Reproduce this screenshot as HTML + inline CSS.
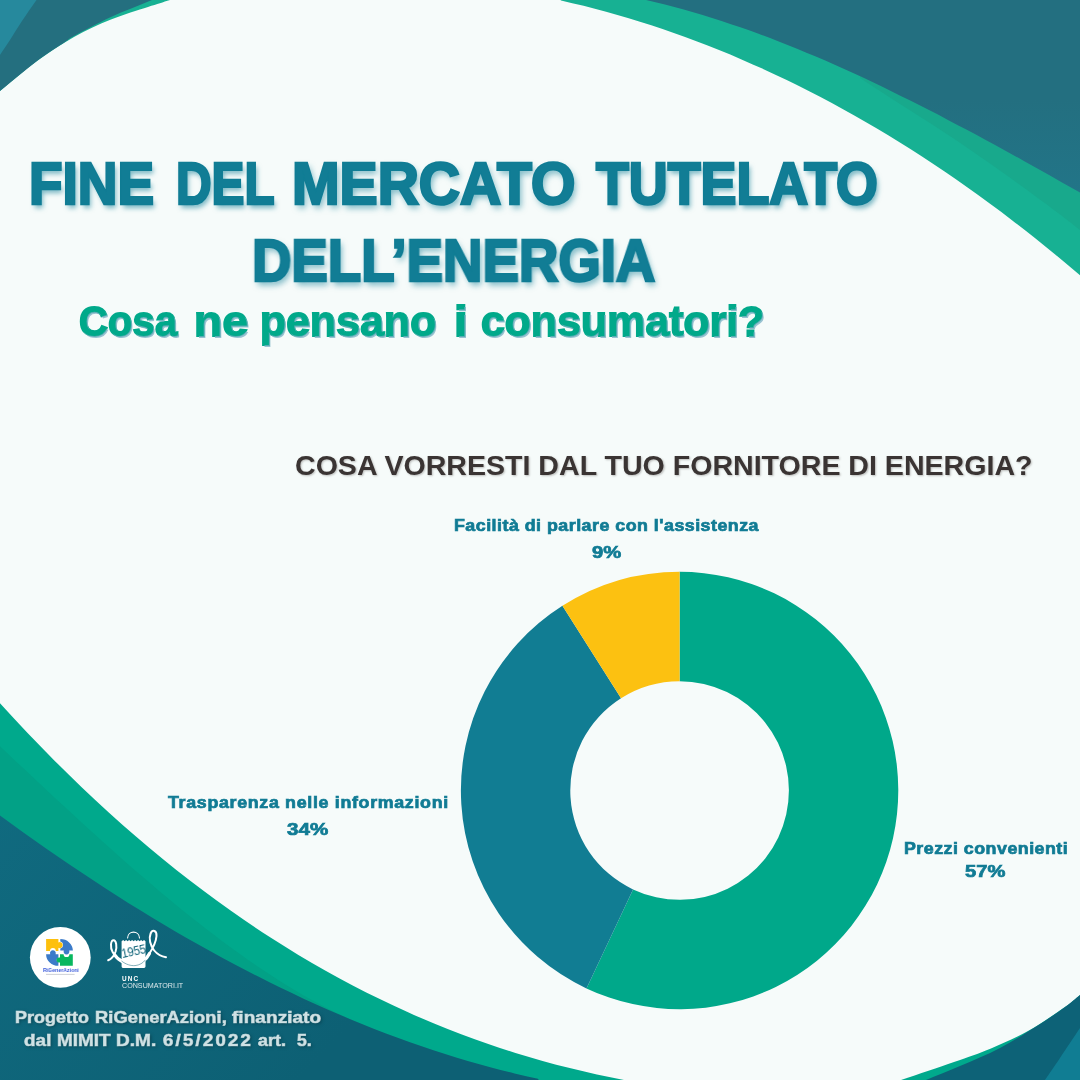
<!DOCTYPE html>
<html lang="it">
<head>
<meta charset="utf-8">
<title>Fine del mercato tutelato dell'energia</title>
<style>
html,body{margin:0;padding:0;}
body{width:1080px;height:1080px;overflow:hidden;background:#f6fbfa;position:relative;font-family:"Liberation Sans",sans-serif;}
#bg{position:absolute;left:0;top:0;width:1080px;height:1080px;display:block;}
.t{position:absolute;white-space:nowrap;font-weight:bold;line-height:1;margin:0;transform-origin:0 0;will-change:transform;}
.title{-webkit-text-stroke:2.6px #117d95;paint-order:stroke fill;color:#117d95;font-size:59.6px;text-shadow:2.5px 3.5px 6px rgba(17,125,149,.55);transform-origin:0 0;}
.sub{-webkit-text-stroke:1.8px #00a98a;paint-order:stroke fill;color:#00a98a;font-size:42.6px;text-shadow:1.6px 1.6px 0.6px rgba(120,175,195,.75);}
.t.ws{font-size:0;}
.w{display:inline-block;width:0;position:relative;vertical-align:top;white-space:nowrap;transform-origin:0 0;line-height:1;}
.title .w{font-size:59.6px;}
.sub .w{font-size:42.6px;}
.ft .w{font-size:16.2px;}
.ct{color:#3a3433;font-size:27px;text-shadow:1px 1px 2px rgba(58,52,51,.3);}
.lb{-webkit-text-stroke:.7px #107b94;paint-order:stroke fill;color:#107b94;font-size:16.5px;text-align:center;}
.ft{-webkit-text-stroke:.7px #cfe2e5;paint-order:stroke fill;color:#cfe2e5;font-size:16.2px;text-shadow:1px 1px 3px rgba(0,40,50,.6);}
</style>
</head>
<body>
<svg id="bg" viewBox="0 0 1080 1080" width="1080" height="1080">
  <!-- top right -->
  <path d="M561.0,0.4 C568.5,2.2 576.0,3.9 583.6,5.8 C591.1,7.7 598.6,9.7 606.1,11.7 C613.7,13.8 621.2,16.0 628.7,18.2 C636.2,20.5 643.7,22.9 651.3,25.3 C658.8,27.8 666.3,30.3 673.8,33.0 C681.3,35.6 688.9,38.3 696.4,41.2 C703.9,44.0 711.4,47.0 719.0,50.0 C726.5,53.0 734.0,56.2 741.5,59.4 C749.0,62.6 756.6,66.0 764.1,69.4 C771.6,72.8 779.1,76.4 786.7,80.0 C794.2,83.7 801.7,87.4 809.2,91.2 C816.7,95.1 824.3,99.0 831.8,103.1 C839.3,107.1 846.8,111.3 854.3,115.5 C861.9,119.8 869.4,124.1 876.9,128.6 C884.4,133.0 892.0,137.6 899.5,142.3 C907.0,146.9 914.5,151.7 922.0,156.6 C929.6,161.5 937.1,166.5 944.6,171.6 C952.1,176.7 959.7,181.9 967.2,187.2 C974.7,192.5 982.2,198.0 989.7,203.5 C997.3,209.0 1004.8,214.7 1012.3,220.4 C1019.8,226.2 1027.3,232.0 1034.9,238.0 C1042.4,244.0 1049.9,250.1 1057.4,256.3 C1065.0,262.5 1072.5,268.9 1080.0,275.2 L1090,276 L1090,-10 L550,-10 Z" fill="#17b193"/>
  <path d="M860.0,78.0 C873.3,86.7 885.5,94.7 900.0,104.0 C914.5,113.3 929.7,122.7 946.7,134.0 C963.7,145.3 983.5,158.8 1002.0,172.0 C1020.5,185.2 1045.0,203.3 1058.0,213.0 C1071.0,222.7 1072.7,224.3 1080.0,230.0 L1090,230 L1090,-10 L860,-10 Z" fill="#18a98c"/>
  <defs><linearGradient id="gdtr" gradientUnits="userSpaceOnUse" x1="0" y1="100" x2="0" y2="195"><stop offset="0" stop-color="#236f80"/><stop offset="1" stop-color="#227588"/></linearGradient></defs>
  <path d="M646.0,0.1 C652.3,1.6 658.6,3.0 664.9,4.6 C671.2,6.1 677.4,7.8 683.7,9.5 C690.0,11.3 696.3,13.1 702.6,15.0 C708.9,16.9 715.2,18.9 721.5,20.9 C727.8,23.0 734.1,25.1 740.3,27.3 C746.6,29.5 752.9,31.7 759.2,34.0 C765.5,36.4 771.8,38.7 778.1,41.2 C784.4,43.6 790.7,46.1 797.0,48.7 C803.2,51.3 809.5,53.9 815.8,56.6 C822.1,59.3 828.4,62.0 834.7,64.8 C841.0,67.6 847.3,70.4 853.6,73.3 C859.9,76.2 866.1,79.1 872.4,82.1 C878.7,85.1 885.0,88.1 891.3,91.2 C897.6,94.3 903.9,97.4 910.2,100.5 C916.5,103.7 922.8,106.9 929.0,110.1 C935.3,113.3 941.6,116.6 947.9,119.9 C954.2,123.2 960.5,126.5 966.8,129.8 C973.1,133.2 979.4,136.6 985.7,140.0 C991.9,143.4 998.2,146.8 1004.5,150.3 C1010.8,153.7 1017.1,157.2 1023.4,160.7 C1029.7,164.2 1036.0,167.7 1042.3,171.2 C1048.6,174.8 1054.8,178.3 1061.1,181.9 C1067.4,185.4 1073.7,189.0 1080.0,192.6 L1090,192 L1090,-10 L640,-10 Z" fill="url(#gdtr)"/>
  <!-- top left -->
  <path d="M0.0,91.0 C12.3,81.0 24.7,70.0 37.0,61.0 C49.3,52.0 61.7,43.9 74.0,37.0 C86.3,30.1 98.7,24.5 111.0,19.5 C123.3,14.5 138.2,10.2 148.0,7.0 C157.8,3.8 162.7,2.3 170.0,0.0 L0,0 Z" fill="#17b193"/>
  <path d="M0.0,91.0 C12.3,81.0 26.2,69.2 37.0,61.0 C47.8,52.8 58.8,46.2 65.0,42.0 C71.2,37.8 66.3,40.2 74.0,36.0 C81.7,31.8 98.0,23.0 111.0,17.0 C124.0,11.0 138.3,5.7 152.0,0.0 L0,0 Z" fill="#246f7f"/>
  <path d="M0.0,55.0 C3.3,50.0 6.3,45.7 10.0,40.0 C13.7,34.3 17.6,27.7 22.0,21.0 C26.4,14.3 31.7,7.0 36.5,0.0 L0,0 Z" fill="#26899d"/>
  <!-- bottom left -->
  <path d="M0.0,703.2 C9.0,713.0 18.1,723.0 27.1,732.5 C36.2,742.0 45.2,751.3 54.3,760.4 C63.3,769.4 72.3,778.3 81.4,786.9 C90.4,795.6 99.5,804.0 108.5,812.2 C117.6,820.4 126.6,828.4 135.7,836.2 C144.7,844.0 153.7,851.6 162.8,858.9 C171.8,866.3 180.9,873.5 189.9,880.5 C199.0,887.4 208.0,894.2 217.0,900.8 C226.1,907.4 235.1,913.8 244.2,920.0 C253.2,926.2 262.3,932.2 271.3,938.0 C280.3,943.8 289.4,949.4 298.4,954.9 C307.5,960.3 316.5,965.6 325.6,970.7 C334.6,975.8 343.7,980.7 352.7,985.4 C361.7,990.2 370.8,994.7 379.8,999.1 C388.9,1003.5 397.9,1007.8 407.0,1011.8 C416.0,1015.9 425.0,1019.8 434.1,1023.5 C443.1,1027.3 452.2,1030.8 461.2,1034.2 C470.3,1037.7 479.3,1040.9 488.3,1044.0 C497.4,1047.2 506.4,1050.1 515.5,1052.9 C524.5,1055.7 533.6,1058.4 542.6,1060.9 C551.7,1063.5 560.7,1065.8 569.7,1068.1 C578.8,1070.3 587.8,1072.4 596.9,1074.4 C605.9,1076.3 615.0,1078.0 624.0,1079.9 L630,1090 L-10,1090 L-10,700 Z" fill="#00a98c"/>
  <path d="M0.0,746.3 C5.3,751.3 10.6,756.4 15.9,761.4 C21.3,766.3 26.6,771.3 31.9,776.3 C37.2,781.3 42.5,786.3 47.8,791.2 C53.1,796.2 58.5,801.1 63.8,806.1 C69.1,811.0 74.4,815.9 79.7,820.7 C85.0,825.6 90.3,830.5 95.7,835.3 C101.0,840.1 106.3,844.9 111.6,849.6 C116.9,854.4 122.2,859.1 127.5,863.7 C132.9,868.4 138.2,873.0 143.5,877.6 C148.8,882.2 154.1,886.7 159.4,891.2 C164.7,895.6 170.1,900.0 175.4,904.4 C180.7,908.8 186.0,913.1 191.3,917.3 C196.6,921.5 202.0,925.7 207.3,929.8 C212.6,933.9 217.9,937.9 223.2,941.9 C228.5,945.8 233.8,949.7 239.2,953.5 C244.5,957.3 249.8,961.0 255.1,964.7 C260.4,968.3 265.7,971.8 271.0,975.3 C276.4,978.8 281.7,982.1 287.0,985.4 C292.3,988.7 297.6,991.8 302.9,994.9 C308.2,998.0 313.6,1000.9 318.9,1003.8 C324.2,1006.6 329.5,1009.4 334.8,1012.0 C340.1,1014.7 345.4,1017.2 350.8,1019.6 C356.1,1022.0 361.4,1024.2 366.7,1026.5 L366.7,1090 L-10,1090 L-10,740 Z" fill="#02a186"/>
  <defs><linearGradient id="gdbl" gradientUnits="userSpaceOnUse" x1="0" y1="800" x2="300" y2="1080"><stop offset="0" stop-color="#106a7f"/><stop offset="1" stop-color="#0d6074"/></linearGradient></defs>
  <path d="M0.0,815.6 C7.8,821.3 15.6,827.0 23.4,832.5 C31.2,838.1 39.0,843.6 46.8,849.0 C54.6,854.4 62.4,859.8 70.2,865.0 C78.0,870.3 85.8,875.5 93.6,880.6 C101.4,885.7 109.2,890.8 117.0,895.7 C124.8,900.7 132.6,905.5 140.3,910.3 C148.1,915.1 155.9,919.9 163.7,924.5 C171.5,929.1 179.3,933.7 187.1,938.2 C194.9,942.6 202.7,947.0 210.5,951.3 C218.3,955.6 226.1,959.9 233.9,964.0 C241.7,968.1 249.5,972.2 257.3,976.1 C265.1,980.1 272.9,984.0 280.7,987.8 C288.5,991.5 296.3,995.2 304.1,998.9 C311.9,1002.5 319.7,1006.0 327.5,1009.4 C335.3,1012.8 343.1,1016.2 350.9,1019.4 C358.7,1022.7 366.5,1025.8 374.3,1028.9 C382.1,1031.9 389.9,1034.9 397.7,1037.8 C405.4,1040.6 413.2,1043.4 421.0,1046.1 C428.8,1048.8 436.6,1051.3 444.4,1053.8 C452.2,1056.3 460.0,1058.7 467.8,1061.0 C475.6,1063.3 483.4,1065.4 491.2,1067.5 C499.0,1069.6 506.8,1071.6 514.6,1073.5 C522.4,1075.4 530.2,1077.0 538.0,1078.8 L545,1090 L-10,1090 L-10,810 Z" fill="url(#gdbl)"/>
  <!-- bottom right -->
  <path d="M901.0,1080.0 C918.7,1074.0 939.0,1067.2 954.0,1062.0 C969.0,1056.8 978.7,1053.7 991.0,1048.5 C1003.3,1043.3 1015.7,1037.9 1028.0,1031.0 C1040.3,1024.1 1056.3,1013.0 1065.0,1007.0 C1073.7,1001.0 1075.0,999.0 1080.0,995.0 L1080,1080 Z" fill="#00a98c"/>
  <path d="M926.0,1080.0 C937.3,1075.3 947.7,1071.3 960.0,1066.0 C972.3,1060.7 987.2,1054.7 1000.0,1048.0 C1012.8,1041.3 1026.2,1032.8 1037.0,1026.0 C1047.8,1019.2 1057.8,1012.2 1065.0,1007.0 C1072.2,1001.8 1075.0,999.0 1080.0,995.0 L1080,1080 Z" fill="#0d6277"/>
  <path d="M1045.0,1080.0 C1050.0,1072.7 1054.2,1066.7 1060.0,1058.0 C1065.8,1049.3 1073.3,1038.0 1080.0,1028.0 L1080,1080 Z" fill="#107d93"/>

  <!-- logo 1: RiGenerAzioni -->
  <g class="logo">
    <circle cx="60.3" cy="957.4" r="30.4" fill="#ffffff"/>
    <!-- yellow piece -->
    <path d="M46.1,939.1 H58.4 V942.4 A3,3 0 1 1 58.4,947.8 V950.9 H55.8 A2.9,2.9 0 1 0 50,950.9 H46.1 Z" fill="#fdc00d"/>
    <!-- blue top-right quarter -->
    <path d="M60.3,939.1 A12.6,11.6 0 0 1 72.9,950.5 H69.2 A2.9,2.9 0 1 1 63.8,950.5 H60.3 V948.6 A3.6,3.6 0 0 0 60.3,941.6 Z" fill="#3c7bc9"/>
    <!-- blue bottom-left quarter -->
    <path d="M46.1,954.2 H50.2 A2.9,2.9 0 1 1 55.6,954.2 H58.4 V957.4 A2.8,2.8 0 0 0 58.4,962.6 V965.8 A12.3,11.6 0 0 1 46.1,954.2 Z" fill="#3c7bc9"/>
    <!-- green piece -->
    <path d="M60,954.2 H63.6 A2.9,2.9 0 0 0 69.4,954.2 H72.8 V965.8 H60 V962.4 A2.6,2.6 0 1 1 60,957.6 Z" fill="#08b75f"/>
    <rect x="46" y="973.9" width="28.6" height="0.9" fill="#9aa3ad" opacity=".55"/>
  </g>
  <!-- logo 2: UNC -->
  <g class="logo" fill="none" stroke="#ffffff" stroke-linecap="round" stroke-linejoin="round">
    <path d="M127.6,938 C127.8,930.2 139.2,930.2 139.5,938" stroke-width="1.1"/>
    <path d="M121.6,966.6 V941.2 l1.6,-1.2 1.4,1.2 1.5,-1.2 1.5,1.2 1.5,-1.2 1.5,1.2 1.5,-1.2 1.5,1.2 1.5,-1.2 1.5,1.2 1.5,-1.2 1.5,1.2 1.5,-1.2 1.5,1.2 1.4,-1.2 1.5,1.2 V966.6 Q145.4,967.9 144.1,967.9 H122.9 Q121.6,967.9 121.6,966.6 Z" fill="#ffffff" stroke="none"/>
    <!-- ribbon -->
    <path d="M108.2,960.3 C111.5,959 114.2,955.5 115.6,951.5 C117.2,946.5 116.2,940.2 113.6,940.2 C110.6,940.2 110,947.5 112.6,952 C115.5,957.5 121,961.5 128,963 C136,964.5 143.5,962.5 148.2,955.5" stroke-width="2"/>
    <path d="M114.5,954.5 C118,960.5 126,964.6 134,964.2 C141,963.8 146.5,959.5 149.5,953.5" stroke-width="3.2"/>
    <path d="M121.8,961.2 C126,964.6 131,965.9 135,965.6 C139.5,965.2 143,963 145.2,960.2" stroke="#0d6277" stroke-width=".5"/>
    <path d="M148.2,955.5 C151.5,950.5 156.2,941.5 156.5,936 C156.8,930.5 152.5,929 150.6,933.5 C148.6,938.5 150.2,945.5 154.2,950.5 C157.5,954.5 161.5,956.6 166,957.2" stroke-width="2"/>
  </g>
  <!-- donut -->
  <path d="M679.60,571.80 A218.7,218.7 0 1 1 586.48,988.39 L633.06,889.40 A109.3,109.3 0 1 0 679.60,681.20 Z" fill="#00a88a"/>
  <path d="M586.48,988.39 A218.7,218.7 0 0 1 562.41,605.85 L621.03,698.21 A109.3,109.3 0 0 0 633.06,889.40 Z" fill="#117d93"/>
  <path d="M562.41,605.85 A218.7,218.7 0 0 1 679.60,571.80 L679.60,681.20 A109.3,109.3 0 0 0 621.03,698.21 Z" fill="#fcc111"/>
</svg>

<h1 class="t title ws" id="t1" style="left:0;top:153.7px;width:1080px;height:61px;"><span class="w" style="left:29.0px;transform:scaleX(0.9212)">FINE</span> <span class="w" style="left:176.4px;transform:scaleX(0.8267)">DEL</span> <span class="w" style="left:292.3px;transform:scaleX(0.9579)">MERCATO</span> <span class="w" style="left:595.9px;transform:scaleX(0.9029)">TUTELATO</span></h1>
<h1 class="t title" id="t2" style="left:251.6px;top:231px;transform:scaleX(0.9158);">DELL’ENERGIA</h1>
<h2 class="t sub ws" id="t3" style="left:0;top:299.8px;width:1080px;height:44px;"><span class="w" style="left:78.5px;transform:scaleX(0.9433)">Cosa</span> <span class="w" style="left:193.8px;transform:scaleX(1.0915)">ne</span> <span class="w" style="left:259.7px;transform:scaleX(1.0076)">pensano</span> <span class="w" style="left:454.4px;transform:scaleX(1.1625)">i</span> <span class="w" style="left:480.7px;transform:scaleX(1.0068)">consumatori?</span></h2>

<div class="t ct" id="ct" style="left:294.5px;top:452.7px;transform:scaleX(1.058);">COSA VORRESTI DAL TUO FORNITORE DI ENERGIA?</div>

<div class="t lb" id="l1a" style="left:454px;top:517.05px;transform:scaleX(1.08);letter-spacing:.45px;">Facilità di parlare con l'assistenza</div>
<div class="t lb" id="l1b" style="left:591.5px;top:544.15px;transform:scaleX(1.225);">9%</div>
<div class="t lb" id="l2a" style="left:168px;top:793.65px;transform:scaleX(1.08);letter-spacing:.63px;">Trasparenza nelle informazioni</div>
<div class="t lb" id="l2b" style="left:287px;top:820.65px;transform:scaleX(1.247);">34%</div>
<div class="t lb" id="l3a" style="left:904px;top:840.25px;transform:scaleX(1.08);letter-spacing:.45px;">Prezzi convenienti</div>
<div class="t lb" id="l3b" style="left:965px;top:862.55px;transform:scaleX(1.223);">57%</div>


<div class="t lg" id="g1" style="left:42.6px;top:967.6px;font-size:5.6px;color:#3b5bdb;transform:scaleX(.93);">RiGenerAzioni</div>
<div class="t lg" id="g2" style="left:122.6px;top:947.6px;font-size:12.8px;font-weight:normal;color:#0d6277;transform:rotate(-12deg) scaleX(.9);transform-origin:0 100%;letter-spacing:-.3px;">1955</div>
<div class="t lg" id="g3" style="left:121.8px;top:976.4px;font-size:6.4px;color:#fff;letter-spacing:1.1px;">UNC</div>
<div class="t lg" id="g4" style="left:121.6px;top:982.5px;font-size:7.15px;font-weight:normal;color:#fff;opacity:.85;">CONSUMATORI.IT</div>
<div class="t ft ws" id="f1" style="left:0;top:1009.3px;width:1080px;height:17px;"><span class="w" style="left:14.9px;transform:scaleX(1.1138)">Progetto</span> <span class="w" style="left:94.7px;transform:scaleX(1.136)">RiGenerAzioni,</span> <span class="w" style="left:232.1px;transform:scaleX(1.18)">finanziato</span></div>
<div class="t ft ws" id="f2" style="left:0;top:1032.2px;width:1080px;height:17px;"><span class="w" style="left:24.2px;transform:scaleX(1.1739)">dal</span> <span class="w" style="left:56.8px;transform:scaleX(1.1711)">MIMIT</span> <span class="w" style="left:115.5px;transform:scaleX(1.1788)">D.M.</span> <span class="w" style="left:163.1px;transform:scaleX(1.15);letter-spacing:1.92px">6/5/2022</span> <span class="w" style="left:257.9px;transform:scaleX(1.108)">art.</span> <span class="w" style="left:296.6px;transform:scaleX(1.0923)">5.</span></div>
</body>
</html>
